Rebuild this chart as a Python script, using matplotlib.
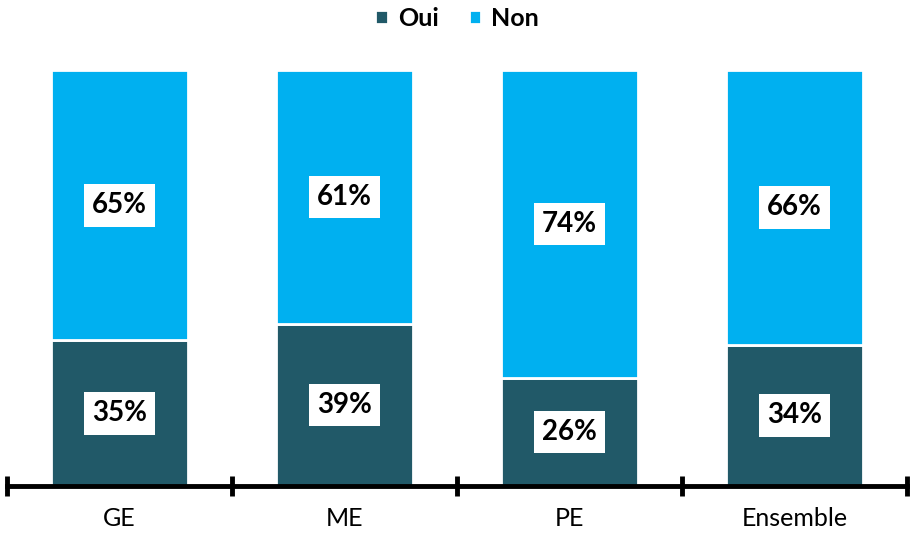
import matplotlib.pyplot as plt
import numpy as np

plt.rcParams['font.family'] = ['Lato', 'DejaVu Sans']

categories = ['GE', 'ME', 'PE', 'Ensemble']
oui = [35, 39, 26, 34]
non = [65, 61, 74, 66]

dark = '#215968'
light = '#00B0F0'

fig = plt.figure(figsize=(9.13, 5.34), dpi=100)
ax = fig.add_axes([7 / 913, 48 / 534, 900 / 913, 416 / 534])

x = np.arange(len(categories))
w = 0.605
ax.bar(x, oui, width=w, color=dark, edgecolor='white', linewidth=2, label='Oui')
ax.bar(x, non, width=w, bottom=oui, color=light, edgecolor='white', linewidth=2, label='Non')

box = dict(boxstyle='square,pad=0.3', facecolor='white', edgecolor='none')
for i in range(len(categories)):
    ax.text(x[i], oui[i] / 2, f'{oui[i]}%', ha='center', va='center',
            fontsize=20, fontweight='bold', bbox=box)
    ax.text(x[i], oui[i] + non[i] / 2, f'{non[i]}%', ha='center', va='center',
            fontsize=20, fontweight='bold', bbox=box)

ax.set_xlim(-0.5, len(categories) - 0.5)
ax.set_ylim(0, 100)
for s in ['top', 'right', 'left']:
    ax.spines[s].set_visible(False)
ax.spines['bottom'].set_linewidth(3.5)
ax.set_yticks([])

ax.set_xticks(x)
ax.set_xticklabels(categories, fontsize=18)
ax.tick_params(axis='x', which='major', length=0, pad=15)
ax.set_xticks(np.arange(len(categories) + 1) - 0.5, minor=True)
ax.tick_params(axis='x', which='minor', direction='inout', length=14, width=3.5, color='black')

ax.legend(loc='upper center', bbox_to_anchor=(0.5, 1.205), ncol=2, frameon=False,
          handlelength=0.5, handleheight=0.5, handletextpad=0.4, columnspacing=1.2,
          prop={'size': 18, 'weight': 'bold'})

fig.savefig('out.png', dpi=100)
